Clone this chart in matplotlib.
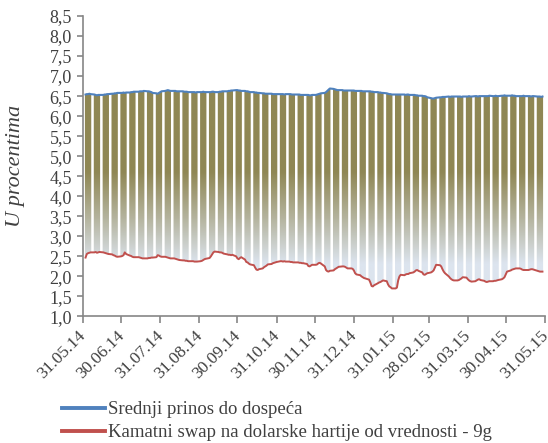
import numpy as np
import pandas as pd
import matplotlib
matplotlib.use("Agg")
import matplotlib.pyplot as plt
import matplotlib.dates as mdates
import matplotlib.transforms as mtransforms
from matplotlib.path import Path
from matplotlib.patches import PathPatch
from matplotlib.lines import Line2D
from matplotlib.colors import LinearSegmentedColormap
from matplotlib.ticker import MultipleLocator, FuncFormatter

plt.rcParams['font.family'] = ['Liberation Serif', 'DejaVu Serif']

# radni dani, jun 2014 - maj 2015 (po 5 vrednosti u redu = jedna nedelja)
dani = pd.bdate_range('2014-06-02', '2015-05-29')

prinos = [
    6.54, 6.55, 6.55, 6.56, 6.55,  6.54, 6.53, 6.52, 6.53, 6.53,
    6.53, 6.54, 6.54, 6.55, 6.55,  6.56, 6.56, 6.57, 6.57, 6.58,
    6.58, 6.58, 6.59, 6.58, 6.59,  6.59, 6.60, 6.60, 6.61, 6.61,
    6.61, 6.62, 6.62, 6.62, 6.63,  6.62, 6.62, 6.61, 6.60, 6.58,
    6.57, 6.56, 6.58, 6.60, 6.62,  6.63, 6.64, 6.65, 6.64, 6.63,
    6.63, 6.63, 6.62, 6.62, 6.62,  6.62, 6.61, 6.61, 6.61, 6.60,
    6.60, 6.60, 6.60, 6.59, 6.60,  6.60, 6.60, 6.61, 6.60, 6.60,
    6.60, 6.60, 6.61, 6.61, 6.60,  6.60, 6.61, 6.61, 6.62, 6.62,
    6.62, 6.63, 6.63, 6.64, 6.64,  6.65, 6.65, 6.64, 6.64, 6.63,
    6.63, 6.62, 6.62, 6.61, 6.60,  6.60, 6.59, 6.59, 6.58, 6.58,
    6.57, 6.57, 6.56, 6.56, 6.56,  6.56, 6.55, 6.55, 6.55, 6.55,
    6.55, 6.55, 6.55, 6.54, 6.55,  6.55, 6.55, 6.54, 6.54, 6.54,
    6.54, 6.54, 6.53, 6.53, 6.53,  6.53, 6.53, 6.52, 6.52, 6.53,
    6.53, 6.54, 6.55, 6.56, 6.57,  6.58, 6.60, 6.63, 6.66, 6.69,
    6.68, 6.67, 6.66, 6.65, 6.65,  6.65, 6.64, 6.64, 6.64, 6.64,
    6.64, 6.64, 6.64, 6.63, 6.63,  6.63, 6.63, 6.62, 6.62, 6.62,
    6.62, 6.62, 6.61, 6.61, 6.60,  6.60, 6.59, 6.59, 6.58, 6.58,
    6.57, 6.56, 6.55, 6.55, 6.54,  6.54, 6.54, 6.54, 6.54, 6.54,
    6.54, 6.53, 6.54, 6.54, 6.53,  6.53, 6.53, 6.52, 6.52, 6.51,
    6.51, 6.50, 6.50, 6.49, 6.47,  6.45, 6.44, 6.44, 6.45, 6.46,
    6.47, 6.47, 6.48, 6.48, 6.48,  6.49, 6.48, 6.49, 6.49, 6.49,
    6.49, 6.49, 6.49, 6.48, 6.49,  6.49, 6.49, 6.50, 6.49, 6.49,
    6.50, 6.50, 6.49, 6.50, 6.50,  6.50, 6.50, 6.50, 6.50, 6.51,
    6.50, 6.50, 6.51, 6.50, 6.50,  6.51, 6.51, 6.52, 6.51, 6.51,
    6.51, 6.52, 6.51, 6.51, 6.50,  6.50, 6.50, 6.50, 6.51, 6.50,
    6.50, 6.50, 6.49, 6.50, 6.50,  6.49, 6.49, 6.49, 6.48, 6.49,
]

swap = [
    2.47, 2.56, 2.58, 2.59, 2.60,  2.60, 2.61, 2.59, 2.60, 2.61,
    2.60, 2.59, 2.58, 2.57, 2.56,  2.55, 2.53, 2.52, 2.50, 2.49,
    2.50, 2.51, 2.53, 2.60, 2.56,  2.52, 2.51, 2.49, 2.48, 2.48,
    2.48, 2.47, 2.46, 2.45, 2.45,  2.45, 2.46, 2.46, 2.47, 2.47,
    2.48, 2.53, 2.52, 2.50, 2.49,  2.49, 2.48, 2.47, 2.46, 2.45,
    2.45, 2.44, 2.43, 2.42, 2.41,  2.40, 2.40, 2.39, 2.39, 2.38,
    2.38, 2.38, 2.37, 2.37, 2.37,  2.38, 2.39, 2.41, 2.43, 2.44,
    2.46, 2.50, 2.55, 2.60, 2.62,  2.61, 2.60, 2.60, 2.59, 2.57,
    2.55, 2.54, 2.54, 2.53, 2.54,  2.50, 2.45, 2.43, 2.46, 2.48,
    2.42, 2.36, 2.35, 2.32, 2.30,  2.28, 2.22, 2.17, 2.16, 2.18,
    2.20, 2.23, 2.25, 2.27, 2.30,  2.31, 2.33, 2.34, 2.35, 2.36,
    2.38, 2.38, 2.37, 2.38, 2.37,  2.37, 2.36, 2.36, 2.35, 2.35,
    2.35, 2.34, 2.34, 2.33, 2.33,  2.31, 2.26, 2.25, 2.27, 2.29,
    2.29, 2.30, 2.33, 2.34, 2.32,  2.25, 2.16, 2.13, 2.12, 2.14,
    2.15, 2.18, 2.20, 2.22, 2.24,  2.25, 2.25, 2.24, 2.22, 2.20,
    2.20, 2.19, 2.15, 2.08, 2.05,  2.03, 2.00, 1.98, 1.96, 1.95,
    1.92, 1.85, 1.76, 1.75, 1.78,  1.83, 1.85, 1.86, 1.88, 1.90,
    1.88, 1.80, 1.75, 1.73, 1.70,  1.70, 1.72, 1.90, 2.00, 2.04,
    2.03, 2.05, 2.06, 2.06, 2.08,  2.10, 2.12, 2.15, 2.16, 2.14,
    2.10, 2.05, 2.04, 2.06, 2.08,  2.10, 2.12, 2.15, 2.22, 2.29,
    2.28, 2.25, 2.18, 2.12, 2.08,  2.00, 1.96, 1.93, 1.91, 1.90,
    1.90, 1.91, 1.93, 1.95, 1.98,  1.97, 1.93, 1.90, 1.88, 1.87,
    1.88, 1.90, 1.92, 1.93, 1.91,  1.89, 1.87, 1.86, 1.87, 1.88,
    1.88, 1.89, 1.89, 1.90, 1.91,  1.93, 1.95, 1.98, 2.05, 2.12,
    2.15, 2.17, 2.18, 2.19, 2.20,  2.20, 2.19, 2.17, 2.16, 2.16,
    2.16, 2.17, 2.18, 2.18, 2.17,  2.14, 2.13, 2.12, 2.12, 2.12,
]

oznake = ['Srednji prinos do dospeća',
          'Kamatni swap na dolarske hartije od vrednosti - 9g']

plava = '#4F81BD'
crvena = '#C0504D'
siva = '#868686'
tekst = '#404040'

fig = plt.figure(figsize=(5.48, 4.43), dpi=100)
ax = fig.add_axes([0.1515, 0.2856, 0.8430, 0.6783])

x0 = mdates.date2num(pd.Timestamp('2014-05-31'))
x1 = mdates.date2num(pd.Timestamp('2015-05-31'))

gore = np.array(prinos)
dole = np.array(swap)

# stubici od swap-a do prinosa, vikendi ostaju prazni
stubici = ax.bar(dani, gore - dole, bottom=dole, width=1.0,
                 color='none', linewidth=0)
putanje = [b.get_path().transformed(b.get_patch_transform()) for b in stubici]
maska = PathPatch(Path.make_compound_path(*putanje), transform=ax.transData,
                  facecolor='none', edgecolor='none')
ax.add_patch(maska)

# gradijent: maslinasta gore, svetloplava dole
yy = np.linspace(1, 8.5, 600)[:, None]
t = np.clip((yy - 2.3) / (4.6 - 2.3), 0, 1)
cmap = LinearSegmentedColormap.from_list('grad', ['#DCE4EE', '#B4B39D', '#8F8754'])
slika = ax.imshow(np.repeat(t, 2, axis=1), extent=[x0, x1, 1, 8.5], origin='lower',
                  aspect='auto', cmap=cmap, vmin=0, vmax=1, interpolation='bilinear')
slika.set_clip_path(maska)

ax.plot(dani, gore, color=plava, lw=1.5)
ax.plot(dani, dole, color=crvena, lw=1.4)

ax.set_xlim(x0, x1)
ax.set_ylim(1, 8.5)

ax.yaxis.set_major_locator(MultipleLocator(0.5))
ax.yaxis.set_major_formatter(FuncFormatter(lambda v, p: f'{v:.1f}'.replace('.', ',')))

meseci = pd.date_range('2014-05-31', '2015-05-31', freq='ME')
ax.set_xticks(mdates.date2num(meseci))
ax.set_xticklabels([d.strftime('%d.%m.%y') for d in meseci],
                   rotation=45, ha='right', rotation_mode='anchor')

for s in ['top', 'right']:
    ax.spines[s].set_visible(False)
for s in ['left', 'bottom']:
    ax.spines[s].set_color(siva)
    ax.spines[s].set_linewidth(1.2)

ax.tick_params(axis='both', colors=siva, labelcolor=tekst, labelsize=13, width=1.2)
ax.tick_params(axis='y', length=4, pad=4)
ax.tick_params(axis='x', length=5, pad=3, labelsize=12.5)

# datumi malo ulevo da poslednji stane u sliku
pomak = mtransforms.ScaledTranslation(-5 / 100, 0, fig.dpi_scale_trans)
for lbl in ax.get_xticklabels():
    lbl.set_transform(lbl.get_transform() + pomak)

ax.set_ylabel('U procentima', fontsize=16, fontstyle='italic', color=tekst)
ax.yaxis.set_label_coords(-0.125, 0.5)

linije = [Line2D([], [], color=plava, lw=2.8), Line2D([], [], color=crvena, lw=2.8)]
fig.legend(linije, oznake, loc='upper left', bbox_to_anchor=(0.113, 0.094), frameon=False,
           fontsize=13.5, handlelength=2.3, handletextpad=0.15, labelspacing=0.3,
           borderaxespad=0, borderpad=0, labelcolor=tekst)

fig.savefig('out.png', dpi=100)
